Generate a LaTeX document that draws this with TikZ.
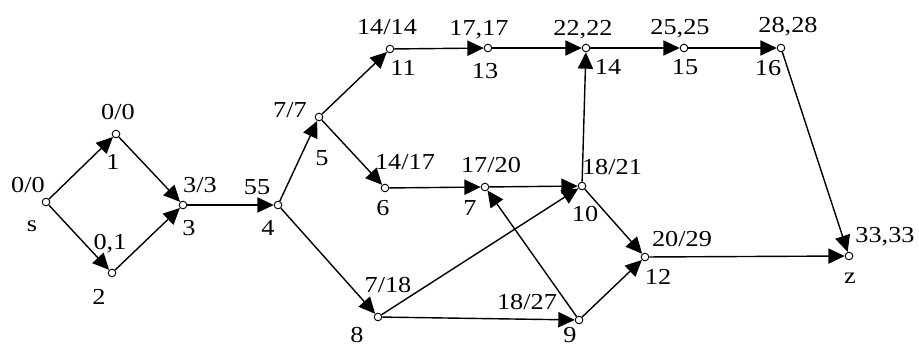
\documentclass[tikz,border=0pt]{standalone}
\usepackage{fontspec}
\setmainfont{Liberation Serif}[FakeStretch=1.15]
\usetikzlibrary{arrows.meta}
\tikzset{
  vtx/.style={circle, draw, fill=white, inner sep=0pt, minimum size=6.5pt, line width=0.8pt},
  txt/.style={inner sep=0pt, text depth=0pt, font=\fontsize{19.5}{22}\selectfont},
  edge/.style={line width=1.2pt, -{Triangle[length=14pt,width=13pt]}}
}
\begin{document}
\begin{tikzpicture}[x=0.03cm, y=-0.03cm]
  \useasboundingbox (0,0) rectangle (919,349);
  % vertices
  \node[vtx] (s) at (46,202) {};
  \node[vtx] (v1) at (116,134) {};
  \node[vtx] (v2) at (112,273) {};
  \node[vtx] (v3) at (183,205) {};
  \node[vtx] (v4) at (278,205) {};
  \node[vtx] (v5) at (319,117) {};
  \node[vtx] (v11) at (390,49) {};
  \node[vtx] (v13) at (488,48) {};
  \node[vtx] (v14) at (586,48) {};
  \node[vtx] (v15) at (684,48) {};
  \node[vtx] (v16) at (781,48) {};
  \node[vtx] (v6) at (385,188) {};
  \node[vtx] (v7) at (485,187) {};
  \node[vtx] (v10) at (582,186) {};
  \node[vtx] (v12) at (645,257) {};
  \node[vtx] (z) at (849,256) {};
  \node[vtx] (v8) at (378,317) {};
  \node[vtx] (v9) at (579,320) {};

  % edges
  \draw[edge] (s) -- (v1);
  \draw[edge] (s) -- (v2);
  \draw[edge] (v1) -- (v3);
  \draw[edge] (v2) -- (v3);
  \draw[edge] (v3) -- (v4);
  \draw[edge] (v4) -- (v5);
  \draw[edge] (v4) -- (v8);
  \draw[edge] (v5) -- (v11);
  \draw[edge] (v5) -- (v6);
  \draw[edge] (v11) -- (v13);
  \draw[edge] (v13) -- (v14);
  \draw[edge] (v14) -- (v15);
  \draw[edge] (v15) -- (v16);
  \draw[edge] (v16) -- (z);
  \draw[edge] (v6) -- (v7);
  \draw[edge] (v7) -- (v10);
  \draw[edge] (v10) -- (v14);
  \draw[edge] (v10) -- (v12);
  \draw[edge] (v12) -- (z);
  \draw[edge] (v8) -- (v10);
  \draw[edge] (v8) -- (v9);
  \draw[edge] (v9) -- (v7);
  \draw[edge] (v9) -- (v12);

  % times and names
  \node[txt] (ts) at (28,185) {0/0};
  \node[txt] (ns) at (32,226) {s};
  \node[txt] (t1) at (118,112) {0/0};
  \node[txt] (n1) at (113,162) {1};
  \node[txt] (t2) at (110,242) {0,1};
  \node[txt] (n2) at (99,297) {2};
  \node[txt] (t3) at (200,185) {3/3};
  \node[txt] (n3) at (189,228) {3};
  \node[txt] (t4) at (257,187) {55};
  \node[txt] (n4) at (268,228) {4};
  \node[txt] (t5) at (290,110) {7/7};
  \node[txt] (n5) at (322,158) {5};
  \node[txt] (t11) at (387,27) {14/14};
  \node[txt] (n11) at (403,68) {11};
  \node[txt] (t13) at (479,28) {17,17};
  \node[txt] (n13) at (485,71) {13};
  \node[txt] (t14) at (583,28) {22,22};
  \node[txt] (n14) at (608,67) {14};
  \node[txt] (t15) at (680,27) {25,25};
  \node[txt] (n15) at (685,67) {15};
  \node[txt] (t16) at (788,25) {28,28};
  \node[txt] (n16) at (768,68) {16};
  \node[txt] (t6) at (405,162) {14/17};
  \node[txt] (n6) at (383,208) {6};
  \node[txt] (t7) at (491,165) {17/20};
  \node[txt] (n7) at (470,208) {7};
  \node[txt] (t10) at (612,167) {18/21};
  \node[txt] (n10) at (585,214) {10};
  \node[txt] (t12) at (682,239) {20/29};
  \node[txt] (n12) at (658,277) {12};
  \node[txt] (tz) at (885,235) {33,33};
  \node[txt] (nz) at (850,278) {z};
  \node[txt] (t8) at (388,285) {7/18};
  \node[txt] (n8) at (357,335) {8};
  \node[txt] (t9) at (527,302) {18/27};
  \node[txt] (n9) at (570,335) {9};
\end{tikzpicture}
\end{document}
